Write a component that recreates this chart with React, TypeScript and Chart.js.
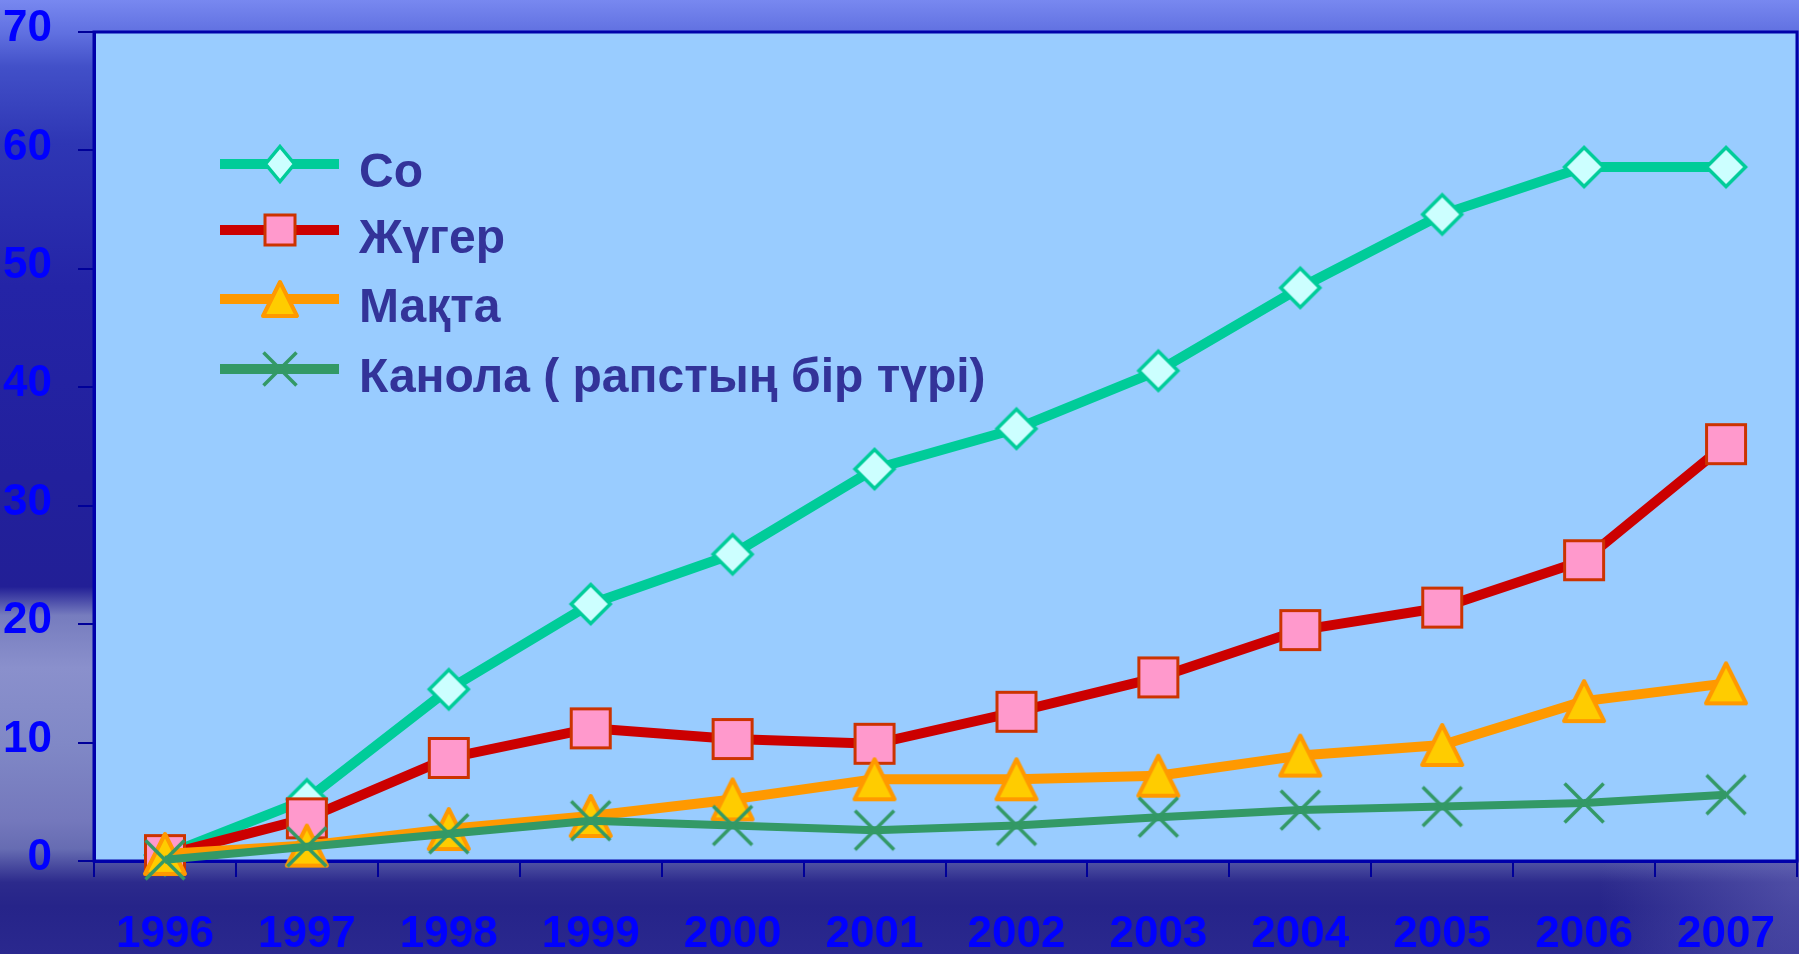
import React, { useEffect, useRef } from 'react';
import { Chart, registerables } from 'chart.js';

Chart.register(...registerables);

// ---------- data ----------
const years = ['1996', '1997', '1998', '1999', '2000', '2001', '2002', '2003', '2004', '2005', '2006', '2007'];
const soyValues = [0.5, 5.2, 14.5, 21.7, 25.9, 33.1, 36.5, 41.4, 48.4, 54.6, 58.6, 58.6];
const maizeValues = [0.5, 3.6, 8.7, 11.2, 10.3, 9.9, 12.6, 15.5, 19.5, 21.4, 25.4, 35.2];
const cottonValues = [0.6, 1.3, 2.7, 3.8, 5.2, 6.9, 6.9, 7.2, 8.9, 9.8, 13.5, 15.0];
const canolaValues = [0.1, 1.2, 2.3, 3.4, 3.0, 2.6, 3.0, 3.7, 4.3, 4.6, 4.9, 5.6];
const seriesNames = ['Со', 'Жүгер', 'Мақта', 'Канола ( рапстың бір түрі)'];
const yTickValues = [0, 10, 20, 30, 40, 50, 60, 70];

// ---------- styles ----------
const W = 1799;
const H = 954;
const FONT = '"Liberation Sans", Arial, sans-serif';

type Kind = 'diamond' | 'square' | 'triangle' | 'cross';

function drawShape(ctx: CanvasRenderingContext2D, kind: Kind, cx: number, cy: number, hw: number, hh: number) {
  ctx.save();
  ctx.beginPath();
  if (kind === 'diamond') {
    ctx.moveTo(cx, cy - hh);
    ctx.lineTo(cx + hw, cy);
    ctx.lineTo(cx, cy + hh);
    ctx.lineTo(cx - hw, cy);
    ctx.closePath();
    ctx.fillStyle = '#CCFFFF';
    ctx.fill();
    ctx.strokeStyle = '#00CC99';
    ctx.lineWidth = 3.5;
    ctx.lineJoin = 'miter';
    ctx.stroke();
  } else if (kind === 'square') {
    ctx.rect(cx - hw, cy - hh, hw * 2, hh * 2);
    ctx.fillStyle = '#FF99CC';
    ctx.fill();
    ctx.strokeStyle = '#CC3300';
    ctx.lineWidth = 3;
    ctx.stroke();
  } else if (kind === 'triangle') {
    ctx.moveTo(cx, cy - hh);
    ctx.lineTo(cx + hw, cy + hh);
    ctx.lineTo(cx - hw, cy + hh);
    ctx.closePath();
    ctx.fillStyle = '#FFCC00';
    ctx.fill();
    ctx.strokeStyle = '#FF9900';
    ctx.lineWidth = 4;
    ctx.lineJoin = 'round';
    ctx.stroke();
  } else {
    ctx.moveTo(cx - hw, cy - hh);
    ctx.lineTo(cx + hw, cy + hh);
    ctx.moveTo(cx + hw, cy - hh);
    ctx.lineTo(cx - hw, cy + hh);
    ctx.strokeStyle = '#339966';
    ctx.lineWidth = 3.5;
    ctx.stroke();
  }
  ctx.restore();
}

function markerCanvas(kind: Kind, hw: number, hh: number): HTMLCanvasElement {
  const c = document.createElement('canvas');
  const w = Math.ceil(hw * 2 + 10);
  const h = Math.ceil(hh * 2 + 10);
  c.width = w + (w % 2);
  c.height = h + (h % 2);
  const ctx = c.getContext('2d')!;
  drawShape(ctx, kind, c.width / 2, c.height / 2, hw, hh);
  return c;
}

const seriesStyles = [
  { kind: 'diamond' as Kind, line: '#00CC99', width: 10, plot: [19.5, 19.5], legend: [14.5, 17.5] },
  { kind: 'square' as Kind, line: '#CC0000', width: 10, plot: [19.5, 19.5], legend: [15, 15] },
  { kind: 'triangle' as Kind, line: '#FF9900', width: 10, plot: [20, 20], legend: [17, 17] },
  { kind: 'cross' as Kind, line: '#339966', width: 8, plot: [19.5, 19.5], legend: [16.5, 16.5] },
];

const backgroundPlugin = {
  id: 'slideBackground',
  beforeDraw(chart: any) {
    const ctx: CanvasRenderingContext2D = chart.ctx;
    ctx.save();
    const g = ctx.createLinearGradient(0, 0, 0, H);
    g.addColorStop(0.0, '#7888f0');
    g.addColorStop(0.035, '#6070e0');
    g.addColorStop(0.07, '#4250c8');
    g.addColorStop(0.15, '#2e36b4');
    g.addColorStop(0.3, '#2424a6');
    g.addColorStop(0.5, '#22209c');
    g.addColorStop(0.615, '#221f96');
    g.addColorStop(0.645, '#767cbe');
    g.addColorStop(0.7, '#8a90cc');
    g.addColorStop(0.78, '#8088c6');
    g.addColorStop(0.86, '#7478bc');
    g.addColorStop(0.89, '#666cb2');
    g.addColorStop(0.925, '#2c2a8c');
    g.addColorStop(0.95, '#262489');
    g.addColorStop(1.0, '#2a288e');
    ctx.fillStyle = g;
    ctx.fillRect(0, 0, W, H);
    // lighter patch bottom right
    const r = ctx.createRadialGradient(1799, 890, 5, 1799, 890, 200);
    r.addColorStop(0, 'rgba(120,120,195,0.45)');
    r.addColorStop(1, 'rgba(120,120,195,0)');
    ctx.fillStyle = r;
    ctx.fillRect(0, 861, W, H - 861);
    // plot area
    const a = chart.chartArea;
    ctx.fillStyle = '#99CCFF';
    ctx.fillRect(a.left, a.top, a.right - a.left, a.bottom - a.top);
    ctx.restore();
  },
  beforeDatasetsDraw(chart: any) {
    const ctx: CanvasRenderingContext2D = chart.ctx;
    const a = chart.chartArea;
    ctx.save();
    ctx.strokeStyle = '#0000AA';
    ctx.lineWidth = 3;
    ctx.strokeRect(a.left, a.top, a.right - a.left, a.bottom - a.top);
    ctx.restore();
  },
};

const legendPlugin = {
  id: 'lineLegend',
  afterDatasetsDraw(chart: any) {
    const ctx: CanvasRenderingContext2D = chart.ctx;
    const rows = [164, 230, 299, 369];
    ctx.save();
    seriesNames.forEach((name, i) => {
      const st = seriesStyles[i];
      const y = rows[i];
      ctx.beginPath();
      ctx.moveTo(220, y);
      ctx.lineTo(339, y);
      ctx.strokeStyle = st.line;
      ctx.lineWidth = 10;
      ctx.lineCap = 'butt';
      ctx.stroke();
      drawShape(ctx, st.kind, 280, y, st.legend[0], st.legend[1]);
      ctx.fillStyle = '#333399';
      ctx.font = `bold 48px ${FONT}`;
      ctx.textAlign = 'left';
      ctx.textBaseline = 'alphabetic';
      ctx.fillText(name, 359, y + 23);
    });
    ctx.restore();
  },
};

export default function App() {
  const ref = useRef<HTMLCanvasElement | null>(null);

  useEffect(() => {
    const canvas = ref.current;
    if (!canvas) return;
    const valuesList = [soyValues, maizeValues, cottonValues, canolaValues];
    const datasets = valuesList.map((vals, i) => {
      const st = seriesStyles[i];
      const img = markerCanvas(st.kind, st.plot[0], st.plot[1]);
      return {
        label: seriesNames[i],
        data: vals,
        borderColor: st.line,
        borderWidth: st.width,
        backgroundColor: st.line,
        pointStyle: img,
        pointRadius: 20,
        pointHoverRadius: 20,
        tension: 0,
        clip: false as any,
        order: 4 - i,
        borderJoinStyle: 'round' as const,
      };
    });

    const chart = new Chart(canvas, {
      type: 'line',
      data: { labels: years, datasets: datasets as any },
      options: {
        animation: false,
        responsive: false,
        devicePixelRatio: 1,
        events: [],
        layout: { autoPadding: false, padding: { top: 32, right: 2, left: 0, bottom: 0 } },
        plugins: { legend: { display: false }, tooltip: { enabled: false } },
        scales: {
          x: {
            offset: true,
            grid: {
              offset: true,
              drawOnChartArea: false,
              color: '#000099',
              lineWidth: 2,
              tickLength: 16,
            },
            border: { color: '#0000AA', width: 3 },
            ticks: {
              color: '#0000FF',
              font: { family: FONT, size: 44, weight: 'bold' },
              padding: 31,
              maxRotation: 0,
              autoSkip: false,
            },
            afterFit: (s: any) => {
              s.height = 93;
              s.paddingLeft = 0;
              s.paddingRight = 0;
              s.paddingTop = 0;
              s.paddingBottom = 0;
            },
          },
          y: {
            min: 0,
            max: 70,
            afterBuildTicks: (s: any) => {
              s.ticks = yTickValues.map((v) => ({ value: v }));
            },
            grid: {
              drawOnChartArea: false,
              color: '#000099',
              lineWidth: 2,
              tickLength: 16,
            },
            border: { color: '#0000AA', width: 3 },
            ticks: {
              color: '#0000FF',
              font: { family: FONT, size: 44, weight: 'bold' },
              padding: 26,
              labelOffset: -3,
            },
            afterFit: (s: any) => {
              s.width = 94;
              s.paddingLeft = 0;
              s.paddingRight = 0;
              s.paddingTop = 0;
              s.paddingBottom = 0;
            },
          },
        },
      } as any,
      plugins: [backgroundPlugin, legendPlugin],
    });
    return () => chart.destroy();
  }, []);

  return (
    <div style={{ position: 'fixed', left: 0, top: 0, width: W, height: H, overflow: 'hidden' }}>
      <canvas ref={ref} width={W} height={H} style={{ display: 'block', width: W, height: H }} />
    </div>
  );
}
